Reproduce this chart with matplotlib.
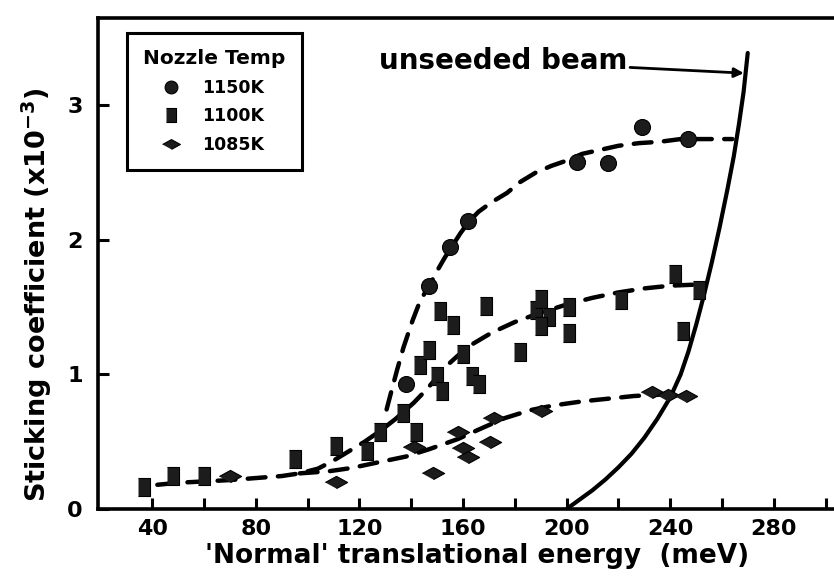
import matplotlib
matplotlib.use("Agg")
import matplotlib.pyplot as plt
import numpy as np

plt.rcParams['font.family'] = 'DejaVu Sans'
plt.rcParams['font.weight'] = 'bold'
plt.rcParams['mathtext.default'] = 'bf'
plt.rcParams['mathtext.fontset'] = 'dejavusans'

# ---- measured points (energy in meV, sticking coefficient x1e-3) ----
e_1150 = [138, 147, 155, 162, 204, 216, 229, 247]
s_1150 = [0.93, 1.66, 1.95, 2.14, 2.58, 2.57, 2.84, 2.75]

e_1100 = [37, 48, 60, 95, 111, 123, 128, 137, 142, 143.5, 147, 150, 152, 151,
          156, 160, 163.5, 166, 169, 182, 188, 190, 193, 190, 201, 201, 221,
          242, 245, 251]
s_1100 = [0.16, 0.245, 0.245, 0.37, 0.47, 0.43, 0.57, 0.71, 0.57, 1.07, 1.18,
          0.99, 0.88, 1.47, 1.37, 1.15, 0.99, 0.93, 1.51, 1.17, 1.48, 1.56,
          1.43, 1.36, 1.50, 1.31, 1.55, 1.75, 1.32, 1.63]

e_1085 = [70, 111, 141, 148.5, 158, 160, 162, 170.5, 172, 190, 233, 239, 246]
s_1085 = [0.245, 0.2, 0.46, 0.27, 0.57, 0.45, 0.39, 0.5, 0.68, 0.73, 0.87,
          0.85, 0.84]

# ---- hand-drawn guide curves ----
fit_e_1150 = [130.5, 132, 134.5, 137, 140.5, 143.5, 147, 150, 153, 156, 159,
              162, 166, 171, 177, 182, 188, 194, 200, 206, 213, 220, 228, 236,
              244, 256, 264]
fit_s_1150 = [0.74, 0.85, 1.03, 1.2, 1.4, 1.55, 1.66, 1.77, 1.87, 1.96, 2.05,
              2.13, 2.21, 2.28, 2.35, 2.43, 2.50, 2.55, 2.59, 2.64, 2.67, 2.70,
              2.72, 2.73, 2.75, 2.75, 2.75]

fit_e_1100 = [42, 50, 60, 70, 80, 90, 97, 104, 110, 116, 122, 128, 134, 141,
              146, 150, 154, 158, 164, 171, 180, 190, 200, 210, 220, 230, 240,
              252]
fit_s_1100 = [0.18, 0.195, 0.205, 0.215, 0.23, 0.245, 0.265, 0.30, 0.36, 0.43,
              0.50, 0.58, 0.67, 0.79, 0.89, 0.98, 1.07, 1.14, 1.23, 1.31, 1.39,
              1.46, 1.52, 1.57, 1.61, 1.64, 1.66, 1.67]

fit_e_1085 = [97, 108, 117, 128, 138, 147, 158, 166, 176, 186, 195, 206, 216,
              226, 236, 246]
fit_s_1085 = [0.265, 0.28, 0.305, 0.35, 0.39, 0.445, 0.52, 0.59, 0.675, 0.735,
              0.77, 0.80, 0.82, 0.84, 0.85, 0.845]

# unseeded beam curve
beam_e = [200, 205, 210, 215, 220, 225, 230, 235, 240, 244, 247, 250, 253,
          256, 259, 262, 264.5, 266.5, 268.3, 269.9]
beam_s = [0.0, 0.07, 0.14, 0.22, 0.31, 0.41, 0.53, 0.67, 0.83, 1.0, 1.17,
          1.37, 1.59, 1.83, 2.09, 2.37, 2.62, 2.86, 3.1, 3.39]

x_major = [40, 80, 120, 160, 200, 240, 280]
x_minor = [60, 100, 140, 180, 220, 260, 300]
y_ticks = [0, 1, 2, 3]
y_ticklabels = ["0", "1", "2", "3"]

ink = "#1c1c1c"
square = [(-0.72, -1), (0.72, -1), (0.72, 1), (-0.72, 1)]
diamond = [(-1, 0), (0, 0.55), (1, 0), (0, -0.55)]

fig = plt.figure(figsize=(8.34, 5.76), dpi=100)
ax = fig.add_axes([98 / 834, 1 - 509 / 576, 1 - 98 / 834, (509 - 18) / 576])

dash = dict(color="black", linewidth=3.2, linestyle=(0, (4.0, 2.8)),
            solid_capstyle="round", dash_capstyle="round")
ax.plot(fit_e_1150, fit_s_1150, **dash)
ax.plot(fit_e_1100, fit_s_1100, **dash)
ax.plot(fit_e_1085, fit_s_1085, **dash)
ax.plot(beam_e, beam_s, color="black", linewidth=3.0,
        solid_joinstyle="round", solid_capstyle="round")

mk = dict(linestyle="none", color=ink, markeredgecolor="black",
          markeredgewidth=0.8, zorder=3)
h1, = ax.plot(e_1150, s_1150, marker="o", markersize=11.5, label="1150K", **mk)
h2, = ax.plot(e_1100, s_1100, marker=square, markersize=12.5, label="1100K", **mk)
h3, = ax.plot(e_1085, s_1085, marker=diamond, markersize=16, label="1085K", **mk)

ax.annotate("unseeded beam", xy=(268.4, 3.24), xytext=(223.4, 3.33),
            ha="right", va="center", fontsize=20, fontweight="bold",
            arrowprops=dict(arrowstyle="-|>", lw=2, color="black",
                            mutation_scale=14, shrinkA=0, shrinkB=0))

leg = ax.legend(handles=[h1, h2, h3], title="Nozzle Temp",
                loc="upper left", bbox_to_anchor=(127 / 834, 1 - 33 / 576),
                bbox_transform=fig.transFigure, borderaxespad=0,
                fontsize=12.5, title_fontsize=14.5, frameon=True, fancybox=False,
                framealpha=1, edgecolor="black", borderpad=0.95,
                handlelength=3.2, handletextpad=0.15, labelspacing=0.6,
                markerscale=0.8, alignment="left")
leg.get_frame().set_linewidth(2.2)
leg.get_title().set_fontweight("bold")

ax.set_xlim(19.1, 303.2)
ax.set_ylim(0, 3.65)
ax.set_xticks(x_major)
ax.set_xticks(x_minor, minor=True)
ax.set_yticks(y_ticks)
ax.set_yticklabels(y_ticklabels)
ax.tick_params(axis="both", which="both", direction="in", length=8, width=2.2,
               labelsize=16)
ax.tick_params(axis="x", pad=7)
ax.tick_params(axis="y", pad=11)

for side in ["left", "bottom", "top"]:
    ax.spines[side].set_linewidth(2.6)
ax.spines["right"].set_visible(False)

fig.text(37 / 834, 1 - 295 / 576, "Sticking coefficient (x10$^{-3}$)",
         rotation=90, ha="center", va="center", fontsize=19.5, fontweight="bold")
fig.text(477 / 834, 1 - 556 / 576, "'Normal' translational energy  (meV)",
         ha="center", va="center", fontsize=19, fontweight="bold")

fig.savefig("out.png", dpi=100)
